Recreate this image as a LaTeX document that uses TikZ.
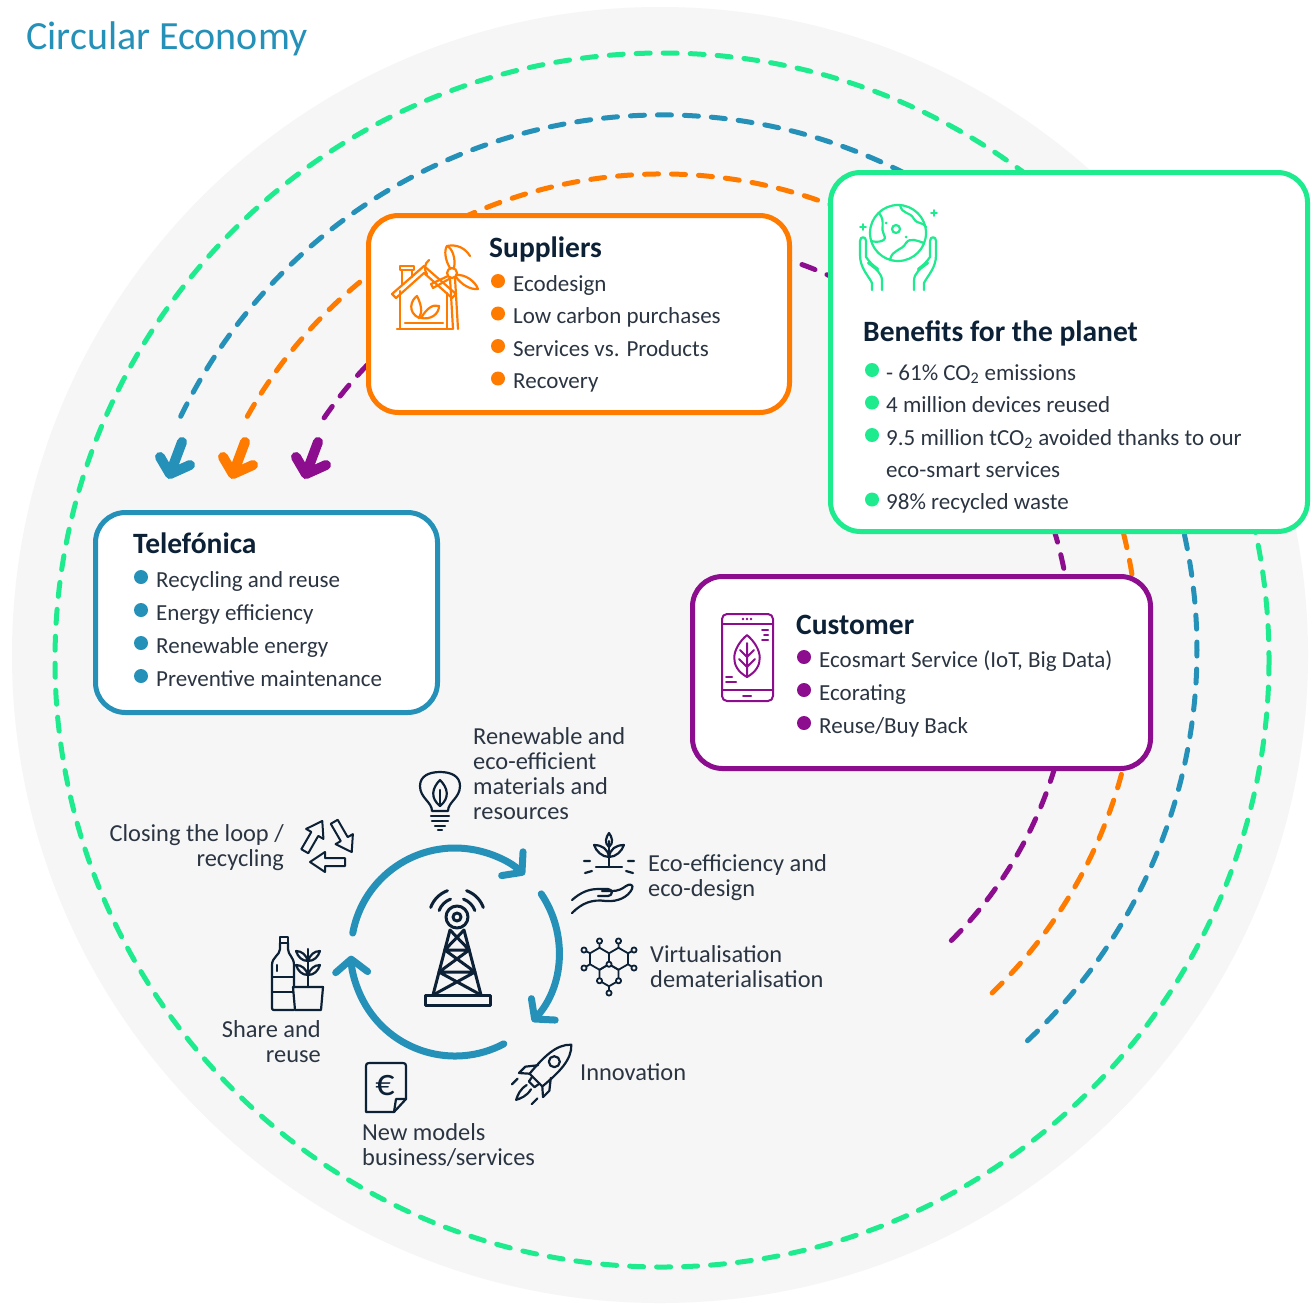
\documentclass[tikz,border=0pt]{standalone}
\usepackage{fontspec}
\setmainfont{Carlito}
\usetikzlibrary{arrows.meta,positioning}

\definecolor{blueC}{HTML}{2591B8}
\definecolor{orangeC}{HTML}{FF7B00}
\definecolor{purpleC}{HTML}{8C0E8E}
\definecolor{greenC}{HTML}{1EEA8E}
\definecolor{bgC}{HTML}{F6F6F6}
\definecolor{inkC}{HTML}{0D2136}
\definecolor{textC}{HTML}{2B3542}

\begin{document}
\begin{tikzpicture}
    [x=1pt, y=-1pt,
    dashline/.style={line width=5pt, line cap=round, dash pattern=on 14pt off 13pt},
    box/.style={draw=#1, line width=5pt, fill=white, rounded corners=30pt,
        anchor=north west, inner sep=0pt, outer sep=0pt},
    head/.style={font=\fontsize{29.5}{32}\selectfont\bfseries, text=inkC,
        anchor=base west, inner sep=0pt},
    item/.style={font=\fontsize{23}{28}\selectfont, text=textC,
        anchor=base west, inner sep=0pt},
    cyctext/.style={font=\fontsize{24.4}{24.7}\selectfont, text=textC,
        anchor=base west, align=left, inner sep=0pt},
    cycarrow/.style={blueC, line width=7pt, line cap=round,
        -{Straight Barb[length=13pt, width=32pt, round]}},
    fatarrow/.style={line width=10pt, line cap=round, line join=round},
    icon/.style={line width=2.2pt, line cap=round, line join=round}]

    \useasboundingbox (0,0) rectangle (1313,1304);
    \fill[white] (0,0) rectangle (1313,1304);
    \fill[bgC] (660,655) circle[radius=648];

    \node[font=\fontsize{40}{44}\selectfont, text=blueC, anchor=base west,
        inner sep=0pt] (title) at (26,49) {Circular Economy};

    % dashed flows
    \coordinate (C) at (662,650);
    \draw[dashline, greenC] (662,660) circle[radius=607];
    \draw[dashline, blueC] (C) ++(205.9:535) arc[start angle=205.9, end angle=407.5, radius=535];
    \draw[dashline, orangeC] (C) ++(209.4:476) arc[start angle=209.4, end angle=406.4, radius=476];
    \draw[dashline, purpleC] (C) ++(214.5:410) arc[start angle=214.5, end angle=405.9, radius=410];

    \foreach \col/\dx in {blueC/0, orangeC/63, purpleC/136}
        \draw[fatarrow, \col] (182+\dx,442) -- (170+\dx,474)
            (160+\dx,457) -- (170+\dx,474) -- (190+\dx,465);

    % boxes
    \node[box=orangeC, minimum width=421pt, minimum height=197pt] (suppliers) at (368.5,215.5) {};
    \node[box=greenC, minimum width=477pt, minimum height=359pt] (benefits) at (830.5,172.5) {};
    \node[box=blueC, minimum width=342pt, minimum height=200pt] (telefonica) at (95.5,512.5) {};
    \node[box=purpleC, minimum width=458pt, minimum height=192pt] (customer) at (692.5,576.5) {};

    \node[head] (supHead) at (489,257) {Suppliers};
    \foreach \txt [count=\i from 0] in {Ecodesign, Low carbon purchases, Services vs. Products, Recovery} {
        \fill[orangeC] (498,281+32.5*\i) circle[radius=7];
        \node[item] (sup\i) at (513,291+32.5*\i) {\txt};
    }

    \node[head] (benHead) at (863,341) {Benefits for the planet};
    \foreach \y/\txt in {380/{- 61\% CO\textsubscript{2} emissions}, 412.5/{4 million devices reused},
        445/{9.5 million tCO\textsubscript{2} avoided thanks to our}, 509.5/{98\% recycled waste}} {
        \fill[greenC] (872,\y-10) circle[radius=7];
        \node[item] at (886,\y) {\txt};
    }
    \node[item] (benMore) at (886,477) {eco-smart services};

    \node[head] (telHead) at (133,553) {Telefónica};
    \foreach \txt [count=\i from 0] in {Recycling and reuse, Energy efficiency, Renewable energy, Preventive maintenance} {
        \fill[blueC] (141,577+33*\i) circle[radius=7];
        \node[item] (tel\i) at (156,587+33*\i) {\txt};
    }

    \node[head] (cusHead) at (796,634) {Customer};
    \foreach \txt [count=\i from 0] in {{Ecosmart Service (IoT, Big Data)}, Ecorating, Reuse/Buy Back} {
        \fill[purpleC] (804,657+33*\i) circle[radius=7];
        \node[item] (cus\i) at (819,667+33*\i) {\txt};
    }

    % supplier icon: house and windmill
    \begin{scope}[shift={(425,300)}, icon, orangeC]
        \draw (-28,29) -- (27,29) (-20,23) -- (18,23);
        \draw (-25,29) -- (-25,-9) (22,29) -- (22,-7);
        \draw (-33,-6) -- (-1,-34) -- (31,-6) -- (27,-2) -- (-1,-27) -- (-29,-2) -- cycle;
        \draw (-23,-15) -- (-23,-30) (-13,-23) -- (-13,-30);
        \draw (-25,-34) rectangle (-11,-30);
        \draw (-6,18) .. controls (-18,12) and (-14,0) .. (-8,-4) .. controls (-4,4) and (-2,12) .. (-6,18) -- cycle;
        \draw (-4,18) .. controls (2,8) and (8,4) .. (14,6) .. controls (14,14) and (6,20) .. (-4,18) -- cycle;
        \draw (27,-27) circle[radius=5];
        \draw (25,-22) -- (28,29) (30,-22) -- (33,29);
        \draw (25,-32) .. controls (20,-40) and (19,-50) .. (22,-54) .. controls (27,-52) and (31,-42) .. (29,-32);
        \draw (22,-54) .. controls (32,-56) and (40,-52) .. (45,-44);
        \draw (31,-25) .. controls (40,-26) and (50,-19) .. (53,-11) .. controls (45,-10) and (36,-16) .. (31,-23);
        \draw (23,-24) -- (6,-16) -- (8,-12) -- (24,-21);
        \draw (4,-40) .. controls (-1,-36) and (-1,-30) .. (2,-26);
    \end{scope}

    % planet icon: globe held by hands
    \begin{scope}[shift={(898,233)}, icon, greenC]
        \draw (0,0) circle[radius=28];
        \draw (-19,-20) .. controls (-12,-12) and (-18,-4) .. (-14,2) .. controls (-10,8) and (-20,10) .. (-27,8);
        \draw (2,-28) .. controls (4,-18) and (12,-22) .. (16,-14) .. controls (20,-8) and (24,-12) .. (28,-6);
        \draw (-8,27) .. controls (-6,16) and (4,18) .. (8,10) .. controls (12,4) and (20,8) .. (26,10);
        \draw (-2,-4) circle[radius=4];
        \fill (-12,-10) circle[radius=1.5] (8,4) circle[radius=1.5];
        \foreach \s in {1,-1}
            \draw[xscale=\s] (-26,57) -- (-26,50) .. controls (-30,42) and (-38,35) .. (-38,22) -- (-38,8)
                .. controls (-38,3) and (-32,3) .. (-32,8) -- (-32,24) .. controls (-28,30) and (-24,33) .. (-20,36)
                (-16,57) -- (-16,48) .. controls (-16,40) and (-22,36) .. (-30,30);
        \draw[line width=1.6pt] (-35,-9) -- (-35,-3) (-38,-6) -- (-32,-6)
            (36,-23) -- (36,-17) (33,-20) -- (39,-20);
    \end{scope}

    % customer icon: phone with leaf
    \begin{scope}[shift={(747,657)}, icon, purpleC, line width=2pt]
        \draw[rounded corners=5pt] (-25,-43) rectangle (26,44);
        \draw (-25,-33) -- (26,-33) (-25,33) -- (26,33) (-4,39) -- (4,39);
        \fill (-4,-38) circle[radius=1.3] (0,-38) circle[radius=1.3] (4,-38) circle[radius=1.3];
        \draw (15,-27) -- (21,-27) (17,-22) -- (21,-22) (15,-17) -- (21,-17)
            (-21,20) -- (-15,20) (-21,25) -- (-11,25);
        \draw (0,20) .. controls (-18,10) and (-16,-8) .. (0,-22) .. controls (16,-8) and (18,10) .. (0,20) -- cycle;
        \draw (0,20) -- (0,-14) (0,10) -- (-8,2) (0,10) -- (8,2) (0,0) -- (-7,-7) (0,0) -- (7,-7);
    \end{scope}

    % inner loop
    \coordinate (hub) at (455,952);
    \draw[cycarrow] (hub) ++(190.5:104) arc[start angle=190.5, end angle=312, radius=104];
    \draw[cycarrow] (hub) ++(326:104) arc[start angle=326, end angle=402, radius=104];
    \draw[cycarrow] (hub) ++(62:104) arc[start angle=62, end angle=178, radius=104];

    % antenna tower
    \begin{scope}[shift={(457,950)}, icon, inkC, line width=3pt]
        \draw (0,-33) circle[radius=11] (0,-33) circle[radius=4];
        \draw (-7,-20) -- (-24,45) (7,-20) -- (24,45);
        \draw (-7,-20) -- (12.2,0) (7,-20) -- (-12.2,0) (-12.2,0) -- (12.2,0)
            (-12.2,0) -- (18,22) (12.2,0) -- (-18,22) (-18,22) -- (18,22)
            (-18,22) -- (24,45) (18,22) -- (-24,45);
        \draw (-32,45) rectangle (33,55);
        \foreach \r in {19,28} {
            \draw (0,-33) ++(200:\r) arc[start angle=200, end angle=250, radius=\r];
            \draw (0,-33) ++(290:\r) arc[start angle=290, end angle=340, radius=\r];
        }
    \end{scope}

    % labels round the loop (anchored on their last line)
    \node[cyctext] (renew) at (473,819) {Renewable and\\eco-efficient\\materials and\\resources};
    \node[cyctext, anchor=base east, align=right] (closing) at (284,866) {Closing the loop /\\recycling};
    \node[cyctext] (ecodes) at (648,896) {Eco-efficiency and\\eco-design};
    \node[cyctext] (virtual) at (650,987) {Virtualisation\\dematerialisation};
    \node[cyctext] (innov) at (580,1080) {Innovation};
    \node[cyctext] (models) at (362,1165) {New models\\business/services};
    \node[cyctext, anchor=base east, align=right] (share) at (321,1062) {Share and\\reuse};

    % bulb
    \begin{scope}[shift={(440,800)}, icon, inkC]
        \draw (-8,11) .. controls (-8,2) and (-20,-2) .. (-20,-14) .. controls (-20,-24) and (-11,-28) .. (0,-28)
            .. controls (11,-28) and (20,-24) .. (20,-14) .. controls (20,-2) and (8,2) .. (8,11) -- cycle;
        \draw (-9,16) -- (9,16) (-8,21) -- (8,21) (-5,26) -- (5,26) (-2,30) -- (2,30);
        \draw (0,6) .. controls (-10,-2) and (-8,-12) .. (0,-20) .. controls (8,-12) and (10,-2) .. (0,6) -- cycle;
        \draw (0,6) -- (0,-10);
    \end{scope}

    % recycling arrows
    \begin{scope}[shift={(328,845)}, icon, inkC, line width=2pt]
        \foreach \a in {0,120,240}
            \draw[rotate=-\a] (17,13) -- (-3,13) -- (-3,7) -- (-18,17) -- (-3,27) -- (-3,21) -- (17,21) -- cycle;
    \end{scope}

    % plant in hand
    \begin{scope}[shift={(604,875)}, icon, inkC]
        \draw (-32,38) .. controls (-22,28) and (-12,24) .. (2,26) .. controls (14,27) and (24,22) .. (28,14)
            .. controls (30,10) and (26,8) .. (22,11) .. controls (18,14) and (14,16) .. (8,16) -- (-2,16);
        \draw (-32,25) .. controls (-24,18) and (-16,14) .. (-6,14) -- (4,14) .. controls (9,14) and (9,21) .. (4,21) -- (-6,21);
        \draw (5,-8) -- (5,-34);
        \draw (5,-18) .. controls (-2,-18) and (-8,-24) .. (-10,-30) .. controls (-2,-30) and (4,-26) .. (5,-18);
        \draw (5,-18) .. controls (12,-18) and (18,-24) .. (20,-30) .. controls (12,-30) and (6,-26) .. (5,-18);
        \draw (5,-28) .. controls (0,-32) and (2,-38) .. (5,-42) .. controls (8,-38) and (10,-32) .. (5,-28);
        \draw (-8,-8) -- (18,-8);
        \draw (-14,-14) -- (-20,-14) (-12,-4) -- (-19,-2) (24,-14) -- (30,-14) (22,-4) -- (29,-2);
    \end{scope}

    % hexagon network
    \begin{scope}[shift={(609,967)}, icon, inkC, line width=1.8pt]
        \foreach \cx/\cy in {-9.5/-8.25, 9.5/-8.25, 0/8.25}
            \draw (\cx+9.5,\cy+5.5) -- (\cx,\cy+11) -- (\cx-9.5,\cy+5.5) -- (\cx-9.5,\cy-5.5)
                -- (\cx,\cy-11) -- (\cx+9.5,\cy-5.5) -- cycle;
        \draw (-9.5,-19.25) -- (-9.5,-26) (9.5,-19.25) -- (9.5,-26)
            (-19,-13.75) -- (-25,-17) (19,-13.75) -- (25,-17)
            (-19,-2.75) -- (-25,1) (19,-2.75) -- (25,1) (0,19.25) -- (0,26);
        \foreach \px/\py in {-9.5/-26, 9.5/-26, -25/-17, 25/-17, -25/1, 25/1, 0/26, 0/-2.75, -9.5/13.75, 9.5/13.75}
            \filldraw[fill=bgC] (\px,\py) circle[radius=2.6];
    \end{scope}

    % rocket
    \begin{scope}[shift={(543,1073)}, rotate=-45, icon, inkC]
        \draw (0,-40) .. controls (11,-30) and (11,-12) .. (9,10) -- (-9,10) .. controls (-11,-12) and (-11,-30) .. (0,-40) -- cycle;
        \draw (0,-16) circle[radius=5.5];
        \draw (-9,-2) -- (-17,8) -- (-17,17) -- (-9,10) (9,-2) -- (17,8) -- (17,17) -- (9,10);
        \draw (-5,10) -- (-4,16) -- (4,16) -- (5,10);
        \draw (-3,20) .. controls (-5,28) and (-2,34) .. (0,38) .. controls (2,34) and (5,28) .. (3,20);
        \draw (-14,22) -- (-14,30) (14,22) -- (14,30);
    \end{scope}

    % euro document
    \begin{scope}[shift={(386,1087)}, icon, inkC]
        \draw (-20,-18) .. controls (-20,-24) .. (-14,-24) -- (14,-24) .. controls (20,-24) .. (20,-18)
            -- (20,12) -- (8,25) -- (-20,25) -- cycle;
        \draw (20,12) -- (10,12) -- (8,25);
        \node[font=\fontsize{38}{38}\selectfont, inner sep=0pt] (euro) at (-1,-1) {€};
    \end{scope}

    % bottle and pot
    \begin{scope}[shift={(296,973)}, icon, inkC]
        \draw (-16,-36) rectangle (-8,-30);
        \draw (-16,-30) -- (-16,-24) .. controls (-16,-18) and (-24,-16) .. (-24,-8) -- (-24,33)
            .. controls (-24,37) .. (-20,37) -- (-2,37);
        \draw (-8,-30) -- (-8,-24) .. controls (-8,-18) and (-2,-16) .. (-2,-8) -- (-2,14);
        \draw (-24,4) -- (-2,4) (-24,19) -- (-3,19) (-19,-8) -- (-19,-2);
        \draw (-3,14) -- (27,14) -- (25,37) -- (-1,37) -- cycle;
        \draw (12,14) -- (12,-24);
        \draw (12,2) .. controls (6,2) and (2,-2) .. (0,-8) .. controls (6,-8) and (10,-4) .. (12,2);
        \draw (12,2) .. controls (18,2) and (22,-2) .. (24,-8) .. controls (18,-8) and (14,-4) .. (12,2);
        \draw (12,-12) .. controls (6,-12) and (2,-16) .. (0,-22) .. controls (6,-22) and (10,-18) .. (12,-12);
        \draw (12,-12) .. controls (18,-12) and (22,-16) .. (24,-22) .. controls (18,-22) and (14,-18) .. (12,-12);
    \end{scope}

\end{tikzpicture}
\end{document}
